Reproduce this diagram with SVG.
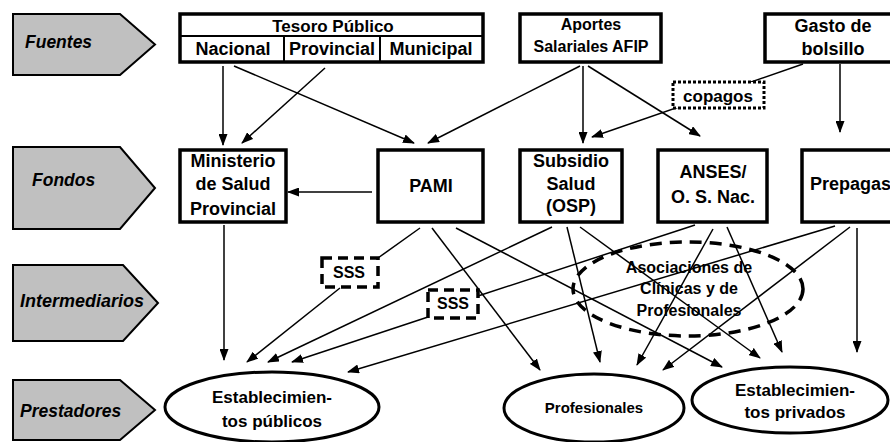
<svg xmlns="http://www.w3.org/2000/svg" width="890" height="442" viewBox="0 0 890 442">
<style>
text{font-family:"Liberation Sans",Arial,sans-serif;font-weight:bold;fill:#000;text-anchor:middle}
.lab{font-style:italic;text-anchor:start;font-size:17.5px}
.stage{fill:#c0c0c0;stroke:#000;stroke-width:2}
.box{fill:#fff;stroke:#000;stroke-width:3.5}
.div{stroke:#000;stroke-width:2;fill:none}
.ell{fill:#fff;stroke:#000;stroke-width:3}
.dash{fill:#fff;stroke:#000;stroke-width:3.5;stroke-dasharray:10 6}
.dot{fill:#fff;stroke:#000;stroke-width:3;stroke-dasharray:3 2}
.t18{font-size:18px}
.t17{font-size:17px}
.t16{font-size:16px}
.t15{font-size:15px}
#connectors line{stroke:#000;stroke-width:1.5;fill:none}
#connectors line.a{marker-end:url(#ah)}
</style>
<defs>
<marker id="ah" markerUnits="userSpaceOnUse" markerWidth="12" markerHeight="9" refX="11" refY="4.5" orient="auto">
<path d="M0,0 L12,4.5 L0,9 z" fill="#000"/>
</marker>
</defs>
<rect width="890" height="442" fill="#fff"/>

<g id="stage-fuentes"><path class="stage" d="M13,14 H120 L155,44.5 L120,75 H13 Z"/><text class="lab" x="25" y="48">Fuentes</text></g>
<g id="stage-fondos"><path class="stage" d="M13,147 H120 L155,188 L120,229 H13 Z"/><text class="lab" x="32" y="186">Fondos</text></g>
<g id="stage-intermediarios"><path class="stage" d="M13,265 H123 L158,303 L123,341 H13 Z"/><text class="lab" x="20" y="307" style="font-size:18px">Intermediarios</text></g>
<g id="stage-prestadores"><path class="stage" d="M13,380 H120 L155,410 L120,440 H13 Z"/><text class="lab" x="20" y="417">Prestadores</text></g>

<g id="connectors">
<line class="a" x1="223" y1="66" x2="223" y2="145"/>
<line class="a" x1="234" y1="66" x2="414" y2="143"/>
<line class="a" x1="325" y1="68" x2="242" y2="143"/>
<line class="a" x1="580" y1="66" x2="428" y2="143"/>
<line class="a" x1="583" y1="66" x2="583" y2="143"/>
<line class="a" x1="588" y1="66" x2="700" y2="136"/>
<line class="a" x1="803" y1="64" x2="592" y2="137"/>
<line class="a" x1="840" y1="64" x2="840" y2="132"/>
<line class="a" x1="372" y1="192" x2="288" y2="192"/>
<line class="a" x1="224" y1="225" x2="224" y2="360"/>
<line x1="420" y1="228" x2="378" y2="258"/>
<line class="a" x1="340" y1="288" x2="247" y2="362"/>
<line class="a" x1="432" y1="228" x2="540" y2="370"/>
<line class="a" x1="456" y1="228" x2="722" y2="367"/>
<line class="a" x1="552" y1="227" x2="268" y2="362"/>
<line class="a" x1="567" y1="227" x2="600" y2="362"/>
<line class="a" x1="580" y1="227" x2="760" y2="358"/>
<line x1="695" y1="225" x2="478" y2="296"/>
<line class="a" x1="428" y1="317" x2="292" y2="362"/>
<line class="a" x1="713" y1="229" x2="637" y2="365"/>
<line class="a" x1="727" y1="227" x2="782" y2="352"/>
<line class="a" x1="835" y1="226" x2="348" y2="372"/>
<line class="a" x1="850" y1="227" x2="663" y2="370"/>
<line class="a" x1="857" y1="228" x2="857" y2="352"/>
</g>

<g id="tesoro">
<rect class="box" x="180" y="14" width="303" height="48"/>
<line class="div" x1="180" y1="36" x2="483" y2="36"/>
<line class="div" x1="284" y1="36" x2="284" y2="62"/>
<line class="div" x1="380" y1="36" x2="380" y2="62"/>
<text class="t17" x="333" y="32">Tesoro Público</text>
<text class="t18" x="233" y="55">Nacional</text>
<text class="t18" x="332" y="55">Provincial</text>
<text class="t18" x="431" y="55">Municipal</text>
</g>
<g id="aportes"><rect class="box" x="520" y="14" width="141" height="48"/><text class="t16" x="591" y="30">Aportes</text><text class="t16" x="591" y="52">Salariales AFIP</text></g>
<g id="gasto"><rect class="box" x="765" y="14" width="140" height="48"/><text class="t18" x="833" y="32">Gasto de</text><text class="t18" x="833" y="55">bolsillo</text></g>
<g id="copagos"><rect class="dot" x="673" y="82" width="91" height="26"/><text class="t17" x="718" y="102">copagos</text></g>

<g id="ministerio"><rect class="box" x="180" y="150" width="106" height="72"/><text class="t18" x="233" y="167">Ministerio</text><text class="t18" x="233" y="190">de Salud</text><text class="t18" x="233" y="215">Provincial</text></g>
<g id="pami"><rect class="box" x="378" y="150" width="105" height="72"/><text class="t18" x="431" y="192">PAMI</text></g>
<g id="subsidio"><rect class="box" x="520" y="150" width="102" height="72"/><text class="t18" x="571" y="167">Subsidio</text><text class="t18" x="571" y="190">Salud</text><text class="t18" x="571" y="212">(OSP)</text></g>
<g id="anses"><rect class="box" x="658" y="150" width="109" height="72"/><text class="t18" x="713" y="178">ANSES/</text><text class="t18" x="713" y="203">O. S. Nac.</text></g>
<g id="prepagas"><rect class="box" x="802" y="150" width="110" height="72"/><text class="t18" x="810" y="190" style="text-anchor:start">Prepagas</text></g>

<g id="sss1"><rect class="dash" x="322" y="258" width="56" height="29"/><text class="t16" x="349" y="278">SSS</text></g>
<g id="sss2"><rect class="dash" x="428" y="290" width="50" height="28"/><text class="t16" x="453" y="309">SSS</text></g>
<g id="asociaciones"><ellipse cx="688" cy="289" rx="115" ry="47" fill="none" stroke="#000" stroke-width="3.5" stroke-dasharray="12 8"/><text class="t16" x="689" y="273">Asociaciones de</text><text class="t16" x="689" y="294">Clínicas y de</text><text class="t16" x="689" y="316">Profesionales</text></g>

<g id="est-publicos"><ellipse class="ell" cx="272" cy="407" rx="107" ry="35"/><text class="t17" x="272" y="403">Establecimien-</text><text class="t17" x="272" y="427">tos públicos</text></g>
<g id="profesionales"><ellipse class="ell" cx="594" cy="408" rx="90" ry="34"/><text class="t15" x="594" y="413">Profesionales</text></g>
<g id="est-privados"><ellipse class="ell" cx="790" cy="400" rx="98" ry="33"/><text class="t17" x="795" y="396">Establecimien-</text><text class="t17" x="795" y="418">tos privados</text></g>
</svg>
